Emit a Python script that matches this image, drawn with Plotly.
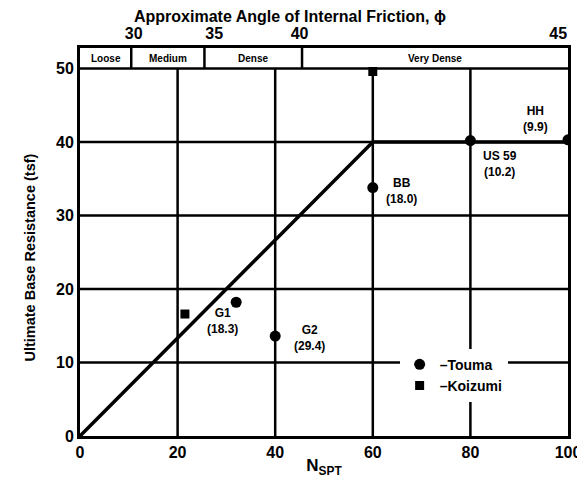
import plotly.graph_objects as go

# ---- data ----
fit_n = [0, 60, 100]
fit_q = [0, 40, 40]

touma_names = ["G1", "G2", "BB", "US 59", "HH"]
touma_vals = ["(18.3)", "(29.4)", "(18.0)", "(10.2)", "(9.9)"]
touma_n = [32, 40, 60, 80, 100]
touma_q = [18.2, 13.6, 33.8, 40.2, 40.3]

koizumi_n = [21.5, 60]
koizumi_q = [16.6, 49.6]

x_ticks = [0, 20, 40, 60, 80, 100]
y_ticks = [0, 10, 20, 30, 40, 50]

phi_labels = ["30", "35", "40", "45"]
phi_pos = [11, 27.5, 45, 98]

density_labels = ["Loose", "Medium", "Dense", "Very Dense"]
density_bounds = [0, 10.5, 25.5, 45.5, 100]

Y_TOP = 52.8
FONT = "Liberation Sans, Arial, sans-serif"

fig = go.Figure()

fig.add_trace(go.Scatter(x=fit_n, y=fit_q, mode="lines",
                         line=dict(color="black", width=3.5),
                         showlegend=False, hoverinfo="skip"))
fig.add_trace(go.Scatter(x=touma_n, y=touma_q, mode="markers", name="–Touma",
                         marker=dict(symbol="circle", size=11, color="black")))
fig.add_trace(go.Scatter(x=koizumi_n, y=koizumi_q, mode="markers", name="–Koizumi",
                         marker=dict(symbol="square", size=9, color="black")))
# invisible trace for top axis
fig.add_trace(go.Scatter(x=phi_pos, y=[None]*len(phi_pos), xaxis="x2",
                         showlegend=False, hoverinfo="skip"))

shapes = []
for t in x_ticks[1:-1]:
    shapes.append(dict(type="line", x0=t, x1=t, y0=0, y1=50, xref="x", yref="y",
                       line=dict(color="black", width=2.5), layer="below"))
for t in y_ticks[1:-1]:
    shapes.append(dict(type="line", x0=0, x1=100, y0=t, y1=t, xref="x", yref="y",
                       line=dict(color="black", width=2.5), layer="below"))
shapes.append(dict(type="line", x0=0, x1=100, y0=50, y1=50, xref="x", yref="y",
                   line=dict(color="black", width=2.5)))
for b in density_bounds[1:-1]:
    shapes.append(dict(type="line", x0=b, x1=b, y0=50, y1=Y_TOP, xref="x", yref="y",
                       line=dict(color="black", width=2.5)))
fig.update_layout(shapes=shapes)

annotations = []
for i, lab in enumerate(density_labels):
    annotations.append(dict(x=(density_bounds[i] + density_bounds[i+1]) / 2, y=(50 + Y_TOP) / 2,
                            text=lab, showarrow=False, xref="x", yref="y",
                            font=dict(size=10, color="black", family=FONT, weight="bold")))

label_offsets = {
    "G1": (-2.8, -2.5),
    "G2": (7, -0.2),
    "BB": (5.8, -0.5),
    "US 59": (6, -3.2),
    "HH": (-6.6, 2.9),
}
for nm, val, n, q in zip(touma_names, touma_vals, touma_n, touma_q):
    dx, dy = label_offsets[nm]
    annotations.append(dict(x=n + dx, y=q + dy, text=nm + "<br>" + val, showarrow=False,
                            xref="x", yref="y", align="center",
                            font=dict(size=12, color="black", family=FONT, weight="bold")))

annotations.append(dict(x=0.43, y=1.0, xref="paper", yref="paper", yshift=32,
                        yanchor="middle", xanchor="center",
                        text="Approximate Angle of Internal Friction, ϕ", showarrow=False,
                        font=dict(size=16, color="black", family=FONT, weight="bold")))
annotations.append(dict(x=0, y=0.46, xref="paper", yref="paper", xshift=-50,
                        xanchor="center", yanchor="middle", textangle=-90,
                        text="Ultimate Base Resistance (tsf)", showarrow=False,
                        font=dict(size=14.5, color="black", family=FONT, weight="bold")))
fig.update_layout(annotations=annotations)

fig.update_layout(
    width=577, height=470,
    margin=dict(l=72, r=17, t=40, b=42),
    paper_bgcolor="white", plot_bgcolor="white",
    font=dict(family=FONT, color="black"),
    xaxis=dict(range=[0, 100], tickvals=x_ticks, showgrid=False, zeroline=False,
               showline=True, linecolor="black", linewidth=3, mirror=True,
               ticks="", tickfont=dict(size=16, weight="bold"), automargin=False,
               title=dict(text="N<sub>SPT</sub>", font=dict(size=17, weight="bold"), standoff=2)),
    xaxis2=dict(range=[0, 100], overlaying="x", side="top", tickvals=phi_pos,
                ticktext=phi_labels, showgrid=False, zeroline=False, showline=False,
                ticks="", tickfont=dict(size=16, weight="bold"), automargin=False,
                ticklabelstandoff=5),
    yaxis=dict(range=[0, Y_TOP], tickvals=y_ticks, showgrid=False, zeroline=False,
               showline=True, linecolor="black", linewidth=3, mirror=True,
               ticks="", tickfont=dict(size=16, weight="bold"), automargin=False),
    legend=dict(x=0.655, y=0.225, xanchor="left", yanchor="top",
                bgcolor="white", font=dict(size=14, color="black", weight="bold"),
                itemwidth=30, tracegroupgap=2),
)

fig.write_html("out.html")
